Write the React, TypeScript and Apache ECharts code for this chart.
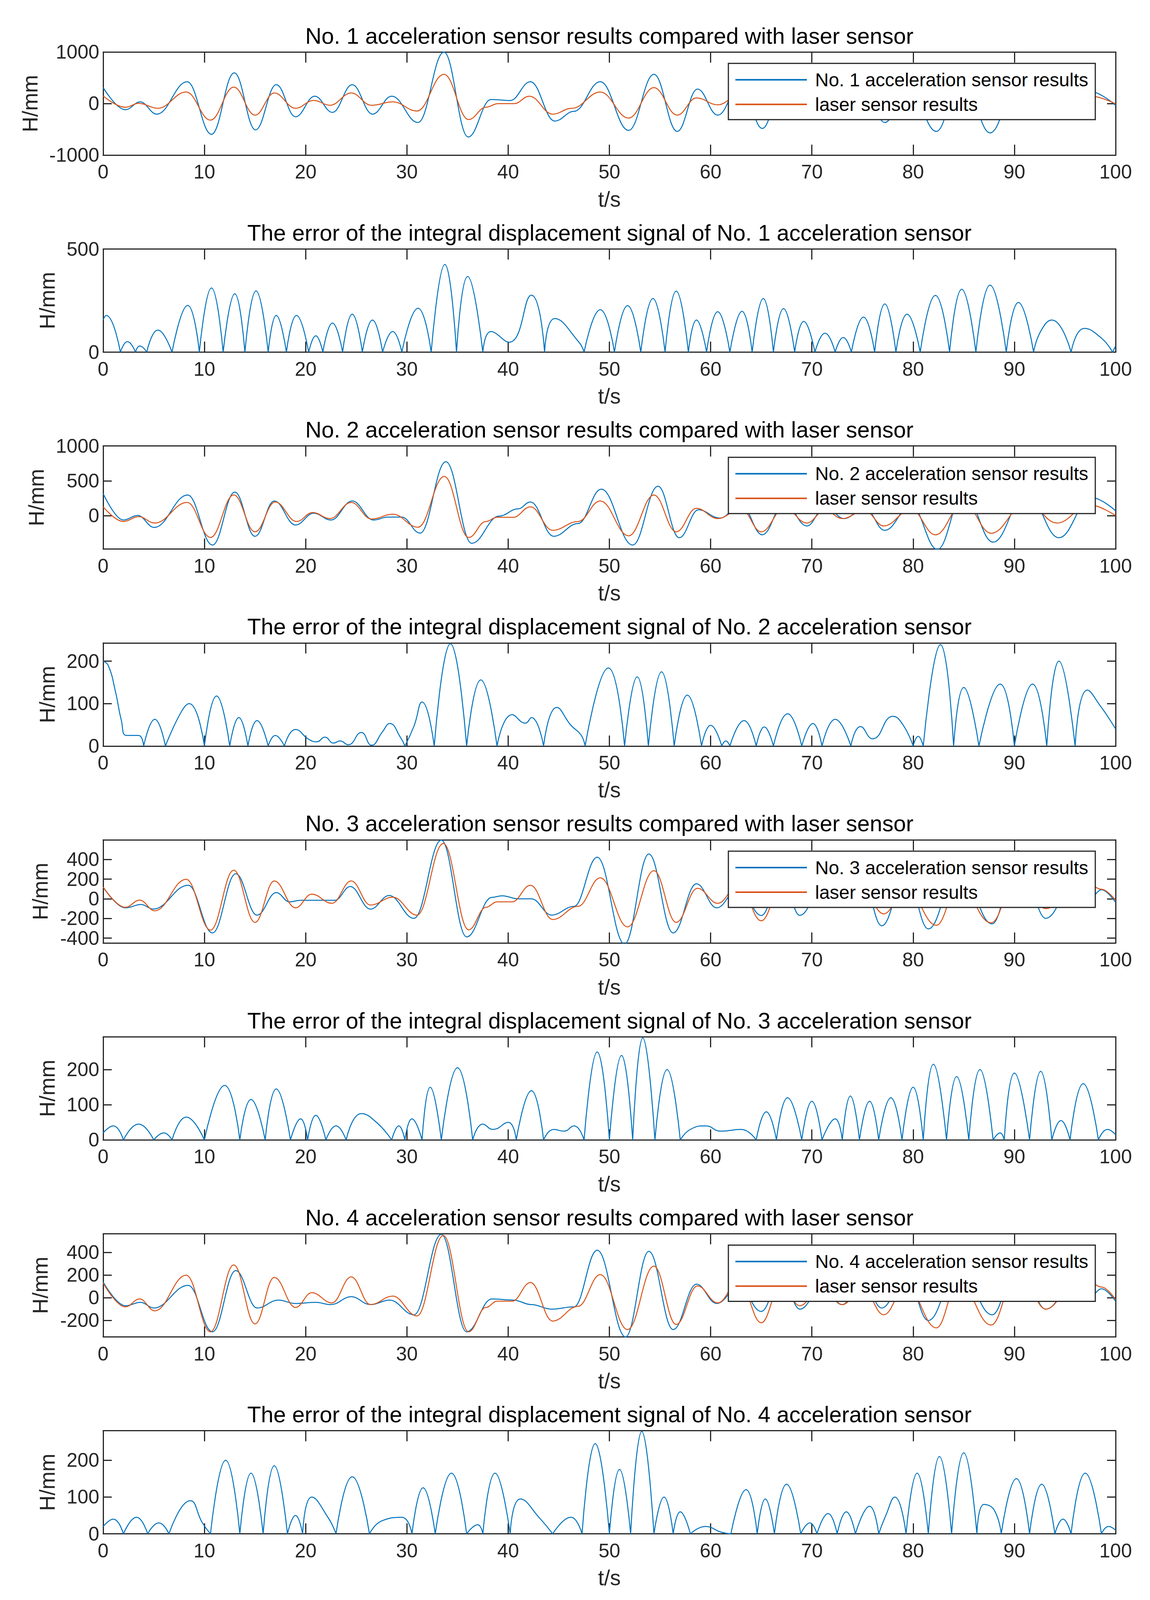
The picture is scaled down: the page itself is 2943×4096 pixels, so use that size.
import React, { useEffect, useRef } from 'react';
import * as echarts from 'echarts';

const FONT = "'Liberation Sans', Arial, Helvetica, sans-serif";
const BLUE = '#0072BD';
const ORANGE = '#D95319';
const AX = '#262626';

const titles = [
  'No. 1 acceleration sensor results compared with laser sensor',
  'The error of the integral displacement signal of No. 1 acceleration sensor',
  'No. 2 acceleration sensor results compared with laser sensor',
  'The error of the integral displacement signal of No. 2 acceleration sensor',
  'No. 3 acceleration sensor results compared with laser sensor',
  'The error of the integral displacement signal of No. 3 acceleration sensor',
  'No. 4 acceleration sensor results compared with laser sensor',
  'The error of the integral displacement signal of No. 4 acceleration sensor',
];
const accNames = [
  'No. 1 acceleration sensor results',
  'No. 2 acceleration sensor results',
  'No. 3 acceleration sensor results',
  'No. 4 acceleration sensor results',
];
const laserName = 'laser sensor results';
const xLabel = 't/s';
const yLabel = 'H/mm';

const yRanges = [[-1000, 1000], [0, 500], [-480, 1000], [0, 243], [-450, 600], [0, 293], [-345, 565], [0, 280]];
const yTicks = [[-1000, 0, 1000], [0, 500], [0, 500, 1000], [0, 100, 200], [-400, -200, 0, 200, 400], [0, 100, 200], [-200, 0, 200, 400], [0, 100, 200]];

// ---- sensor 1 ----
const acc1 = [[0,311],[2.2,-118],[3.65,34],[5.3,-204],[8.3,425],[10.7,-595],[12.95,597],[15.05,-509],[17.1,368],[19.0,-256],[20.9,145],[22.65,-170],[24.6,368],[26.6,-204],[28.5,145],[31.1,-366],[33.66,998],[36.05,-647],[38.3,80],[40.2,60],[42.2,425],[44.6,-338],[46.5,-150],[49.1,425],[51.9,-519],[54.4,569],[56.7,-538],[58.7,282],[60.7,-223],[63.0,390],[65.1,-481],[67.2,420],[69.2,-300],[71.2,180],[73.1,-140],[75.1,340],[77.2,-366],[79.5,360],[82.3,-538],[84.8,600],[87.6,-567],[90.4,470],[93.6,-280],[97.4,240],[100,-32]];
const laser1 = [[0,149],[2.2,-70],[3.5,6],[5.4,-90],[8.2,225],[10.6,-319],[12.9,320],[15.0,-223],[16.9,206],[19.0,-90],[20.8,63],[22.4,-32],[24.5,206],[26.5,-32],[28.6,34],[31.0,-143],[33.66,569],[36.1,-309],[37.8,-70],[39.0,0],[40.6,0],[42.1,145],[44.4,-204],[46.3,-90],[49.1,225],[51.9,-280],[54.4,311],[56.7,-223],[58.6,111],[60.7,-23],[63.0,190],[65.1,-225],[67.2,210],[69.2,-150],[71.2,90],[73.1,-70],[75.1,170],[77.2,-140],[79.5,175],[82.3,-268],[84.8,295],[87.6,-245],[90.4,230],[93.6,-140],[97.4,150],[100,-4]];
const err1 = [[0,158],[0.3,178],[1.7,0],[2.4,51],[3.2,0],[3.6,30],[3.95,22],[4.3,0],[5.4,107],[6.8,0],[8.35,227],[9.5,0],[10.7,311],[11.85,0],[13.0,283],[14.0,0],[15.1,297],[16.3,0],[17.1,178],[18.1,0],[19.1,178],[20.3,0],[21.0,79],[21.7,0],[22.65,141],[23.65,0],[24.6,184],[25.6,0],[26.6,156],[27.6,0],[28.6,100],[29.5,0],[31.1,213],[32.4,0],[33.75,425],[34.9,0],[36.0,367],[37.5,0],[38.3,100],[40.1,48],[42.3,276],[43.6,0],[44.6,163],[47.0,48],[47.5,0],[49.1,206],[50.5,0],[51.8,226],[53.1,0],[54.3,260],[55.5,0],[56.6,296],[57.8,0],[58.6,156],[59.6,0],[60.7,196],[61.9,0],[63.1,198],[64.1,0],[65.2,260],[66.2,0],[67.2,211],[68.3,0],[69.2,149],[70.3,0],[71.3,92],[72.3,0],[73.1,71],[73.9,0],[75.1,170],[76.2,0],[77.2,234],[78.3,0],[79.4,184],[80.7,0],[82.2,275],[83.6,0],[84.8,305],[86.2,0],[87.6,325],[89.2,0],[90.4,241],[91.9,0],[92.6,101],[93.7,156],[95.6,0],[96.9,115],[98.6,68],[99.7,0],[100,30]];

// ---- sensor 2 ----
const acc2 = [[0,317],[2.0,-63],[3.4,3],[5.05,-169],[8.35,296],[10.8,-422],[13.0,338],[15.0,-296],[16.9,211],[19.0,-134],[20.8,35],[22.5,-63],[24.6,211],[26.7,-63],[28.1,-21],[29.5,-21],[31.3,-251],[33.85,774],[36.4,-397],[39.1,-7],[41.0,99],[42.2,197],[44.5,-296],[46.9,-113],[49.2,380],[52.3,-422],[54.8,422],[56.9,-317],[58.8,84],[60.9,-35],[63.0,160],[65.1,-275],[67.3,190],[69.5,-148],[71.3,130],[73.2,-42],[75.2,120],[77.2,-211],[79.8,150],[82.4,-485],[85.0,330],[87.9,-380],[91.2,340],[94.4,-317],[97.6,260],[100,70]];
const laser2 = [[0,127],[2.0,-84],[3.5,-14],[5.1,-106],[8.3,190],[10.6,-313],[12.9,298],[15.0,-232],[17.0,197],[19.1,-84],[20.7,45],[22.4,-42],[24.5,190],[26.5,-49],[28.6,21],[31.1,-166],[33.7,563],[36.1,-313],[37.8,-84],[38.9,-24],[40.5,-24],[42.2,127],[44.4,-211],[46.9,-84],[49.1,211],[51.9,-289],[54.4,296],[56.6,-232],[58.6,106],[60.7,-42],[63.0,100],[65.0,-232],[67.3,115],[69.5,-106],[71.3,80],[73.0,-42],[75.2,75],[77.1,-148],[79.8,90],[82.2,-275],[85.0,190],[87.7,-253],[91.2,195],[94.2,-106],[97.4,155],[100,0]];
const err2 = [[0,200],[0.5,190],[1.2,130],[1.8,60],[2.3,25],[3.5,25],[4.0,0],[5.1,63],[6.15,0],[7.7,80],[8.5,100],[10.0,0],[11.2,118],[12.5,0],[13.4,67],[14.3,0],[15.2,60],[16.3,0],[17.0,25],[17.9,0],[19.0,39],[20.3,16],[21.1,10],[21.9,21],[22.75,7],[23.4,12],[24.2,3],[25.5,32],[26.5,2],[27.6,34],[28.3,53],[29.4,19],[29.8,0],[30.7,47],[31.5,104],[32.7,0],[34.3,241],[35.9,0],[37.3,156],[38.9,0],[40.4,74],[41.7,54],[42.3,67],[43.5,0],[44.8,91],[46.2,49],[47.2,26],[47.6,0],[49.9,184],[51.5,0],[52.75,163],[53.85,0],[55.15,175],[56.4,0],[57.7,120],[59.1,0],[60.0,49],[61.1,0],[61.5,12],[61.9,0],[63.3,60],[64.5,0],[65.3,45],[66.2,0],[67.6,76],[69.0,0],[70.1,53],[71.0,0],[72.3,63],[73.85,0],[74.8,46],[76.0,17],[78.0,70],[79.0,50],[80.0,0],[80.5,23],[81.0,0],[82.7,239],[84.0,0],[85.0,138],[86.5,0],[88.6,146],[90.0,0],[91.8,146],[93.2,0],[94.4,200],[96.0,0],[97.2,132],[98.6,91],[99.7,52],[100,40]];

// ---- sensor 3 ----
const acc3 = [[0,120],[2.2,-92],[3.75,-58],[4.95,-105],[8.4,138],[10.8,-347],[13.1,255],[15.2,-166],[17.1,63],[18.4,-31],[19.5,-15],[22.9,-15],[24.4,125],[26.4,-105],[28.25,34],[30.7,-199],[33.4,597],[35.9,-388],[38.4,15],[39.4,31],[41.0,0],[42.3,0],[44.3,-166],[46.5,-77],[48.8,423],[51.5,-460],[53.9,456],[56.3,-347],[58.6,153],[60.6,-92],[62.8,120],[65.0,-170],[67.0,250],[68.8,-168],[71.0,100],[73.0,-80],[75.0,200],[76.9,-275],[79.3,250],[81.5,-306],[84.5,330],[87.8,-255],[90.4,490],[93.1,-199],[95.7,110],[97.6,20],[98.6,92],[100,-36]];
const laser3 = [[0,120],[2.2,-87],[3.6,-13],[5.1,-122],[8.2,199],[10.6,-319],[12.9,291],[15.0,-240],[16.9,182],[19.0,-92],[20.6,48],[22.6,-46],[24.5,182],[26.4,-64],[28.6,17],[31.0,-166],[33.6,564],[36.1,-316],[37.8,-87],[38.9,-31],[40.4,-31],[42.2,138],[44.4,-211],[46.9,-77],[49.1,214],[51.8,-286],[54.4,286],[56.6,-240],[58.7,107],[60.7,-46],[62.8,150],[65.0,-224],[67.0,130],[68.8,-70],[71.0,120],[73.0,-60],[75.0,90],[77.1,-153],[79.3,110],[82.3,-270],[84.5,150],[87.7,-245],[90.4,290],[93.1,-100],[95.5,60],[97.3,150],[98.6,97],[100,-15]];
const err3 = [[0,20],[1.0,40],[2.0,0],[3.5,45],[5.0,0],[6.0,20],[6.8,0],[8.2,65],[10.0,0],[12.0,155],[13.5,0],[14.6,115],[16.0,0],[17.1,145],[18.5,0],[19.5,60],[20.2,0],[21.0,70],[22.0,0],[23.0,40],[24.0,0],[25.5,75],[27.0,50],[28.5,0],[29.2,40],[29.8,0],[30.5,60],[31.5,0],[32.3,150],[33.4,0],[35.0,205],[36.5,0],[37.5,45],[38.5,30],[40.0,50],[40.8,0],[42.3,140],[43.5,0],[44.5,30],[45.5,25],[46.5,40],[47.5,0],[48.8,250],[50.0,0],[51.2,240],[52.3,0],[53.3,290],[54.5,0],[55.7,200],[57.0,0],[58.0,30],[59.5,40],[61.0,25],[63.0,30],[64.5,0],[65.5,80],[66.5,0],[67.6,120],[69.0,0],[70.0,110],[71.0,0],[72.3,60],[73.0,0],[73.8,125],[74.7,0],[75.7,110],[76.6,0],[77.8,120],[78.9,0],[80.0,150],[81.0,0],[82.0,215],[83.3,0],[84.3,180],[85.5,0],[86.6,200],[87.9,0],[88.6,20],[89.0,0],[90.0,190],[91.5,0],[92.6,195],[93.7,0],[94.6,55],[95.5,0],[96.8,160],[98.3,0],[99.2,30],[100,15]];

// ---- sensor 4 ----
const acc4 = [[0,140],[2.2,-70],[3.7,-40],[5.0,-90],[8.4,110],[10.8,-300],[13.1,240],[15.2,-90],[17.3,-20],[19.0,-50],[21.0,-40],[22.5,-60],[24.5,10],[26.4,-60],[28.3,-20],[30.7,-150],[33.4,560],[35.9,-300],[38.4,-10],[40.5,-20],[42.3,-60],[44.3,-100],[46.5,-80],[48.8,420],[51.6,-345],[53.9,410],[56.3,-280],[58.6,120],[60.6,-50],[62.8,100],[65.0,-120],[67.0,200],[68.8,-100],[71.0,90],[73.0,-60],[75.0,160],[76.9,-90],[79.3,200],[81.5,-200],[84.5,280],[87.8,-150],[90.4,350],[93.1,-100],[95.7,100],[97.6,20],[98.6,80],[100,-30]];
const laser4 = [[0,130],[2.2,-80],[3.6,-10],[5.1,-115],[8.2,200],[10.6,-300],[12.9,290],[15.0,-230],[16.9,180],[19.0,-85],[20.6,45],[22.6,-45],[24.5,185],[26.4,-60],[28.6,15],[31.0,-160],[33.6,550],[36.1,-300],[37.8,-85],[38.9,-30],[40.4,-30],[42.2,135],[44.4,-205],[46.9,-75],[49.1,205],[51.8,-280],[54.4,280],[56.6,-235],[58.7,105],[60.7,-45],[62.8,150],[65.0,-220],[67.0,130],[68.8,-70],[71.0,115],[73.0,-60],[75.0,90],[77.1,-150],[79.3,110],[82.3,-265],[84.5,150],[87.7,-240],[90.4,280],[93.1,-100],[95.5,60],[97.3,150],[98.6,95],[100,-15]];
const err4 = [[0,20],[1.0,40],[2.0,0],[3.3,45],[4.4,0],[5.5,30],[6.5,0],[8.6,90],[9.8,30],[10.6,0],[12.1,200],[13.5,0],[14.6,165],[15.8,0],[16.9,185],[18.2,0],[19.0,50],[19.7,0],[20.6,100],[22.2,45],[23.0,0],[24.6,155],[26.3,0],[27.5,35],[29.5,45],[30.5,0],[31.6,125],[32.8,0],[34.4,165],[35.9,0],[37.0,25],[37.5,0],[38.7,165],[40.2,0],[41.2,95],[43.2,40],[44.4,0],[46.2,45],[47.3,0],[48.6,245],[50.0,0],[51.0,175],[52.1,0],[53.2,278],[54.4,0],[55.4,100],[56.3,0],[57.0,60],[58.0,0],[59.5,20],[61.0,5],[62.0,0],[63.5,120],[64.6,0],[65.4,95],[66.3,0],[67.5,135],[68.9,0],[69.8,30],[70.5,0],[71.6,55],[72.5,0],[73.4,60],[74.3,0],[75.7,75],[76.6,0],[77.3,50],[78.2,100],[79.3,0],[80.4,165],[81.5,0],[82.6,210],[83.8,0],[85.0,220],[86.3,0],[87.0,80],[88.0,65],[88.7,0],[90.2,150],[91.5,0],[92.7,135],[94.0,0],[94.8,40],[95.6,0],[97.0,165],[98.6,0],[99.3,20],[100,10]];

const accData = [acc1, acc2, acc3, acc4];
const laserData = [laser1, laser2, laser3, laser4];
const errData = [err1, err2, err3, err4];

// ---- layout (target pixels) ----
const W = 2943, H = 4096;
const GL = 264, GW = 2591, GH = 264;
const TOP0 = 133.3, PITCH = 504.2;
const yNameGaps = [160, 116, 144, 116, 134, 116, 134, 116];

function withCusps(pairs: number[][]) {
  const out: any[] = [];
  pairs.forEach(([t, v], j) => {
    if (v === 0 && j > 0 && j < pairs.length - 1) {
      out.push([t, 0]);
      out.push([t, null]);
      out.push([t, 0]);
    } else out.push([t, v]);
  });
  return out;
}

const plain = (v: number) => String(v);

function buildOption() {
  const grid: any[] = [], xAxis: any[] = [], yAxis: any[] = [], series: any[] = [], legend: any[] = [], graphic: any[] = [];
  const lineSt = { color: AX, width: 3 };
  for (let i = 0; i < 8; i++) {
    const top = TOP0 + i * PITCH;
    grid.push({ left: GL, top, width: GW, height: GH });
    const [ymin, ymax] = yRanges[i];
    xAxis.push({
      type: 'value', gridIndex: i, min: 0, max: 100, interval: 10, position: 'bottom',
      axisLine: { show: true, onZero: false, lineStyle: lineSt },
      axisTick: { show: true, inside: true, length: 27, lineStyle: lineSt },
      axisLabel: { show: true, margin: 18, fontSize: 50, color: AX, fontFamily: FONT, showMinLabel: true, showMaxLabel: true, formatter: plain },
      splitLine: { show: false },
      name: xLabel, nameLocation: 'middle', nameGap: 85,
      nameTextStyle: { fontSize: 55, color: AX, fontFamily: FONT },
    });
    xAxis.push({
      type: 'value', gridIndex: i, min: 0, max: 100, interval: 10, position: 'top',
      axisLine: { show: true, onZero: false, lineStyle: lineSt },
      axisTick: { show: true, inside: true, length: 27, lineStyle: lineSt },
      axisLabel: { show: false }, splitLine: { show: false },
    });
    yAxis.push({
      type: 'value', gridIndex: i, min: ymin, max: ymax, position: 'left',
      axisLine: { show: true, onZero: false, lineStyle: lineSt },
      axisTick: { show: true, inside: true, length: 22, lineStyle: lineSt, customValues: yTicks[i] },
      axisLabel: { show: true, margin: 10, fontSize: 50, color: AX, fontFamily: FONT, customValues: yTicks[i], formatter: plain },
      splitLine: { show: false },
      name: yLabel, nameLocation: 'middle', nameRotate: 90, nameGap: yNameGaps[i],
      nameTextStyle: { fontSize: 55, color: AX, fontFamily: FONT },
    });
    yAxis.push({
      type: 'value', gridIndex: i, min: ymin, max: ymax, position: 'right',
      axisLine: { show: true, onZero: false, lineStyle: lineSt },
      axisTick: { show: true, inside: true, length: 22, lineStyle: lineSt, customValues: yTicks[i] },
      axisLabel: { show: false }, splitLine: { show: false },
    });
    graphic.push({
      type: 'text', x: GL + GW / 2, y: top - 41.8, silent: true,
      style: { text: titles[i], fontSize: 57.5, fontFamily: FONT, fill: '#000', align: 'center', verticalAlign: 'middle', textAlign: 'center', textVerticalAlign: 'middle' },
    });
    const k = Math.floor(i / 2);
    if (i % 2 === 0) {
      series.push({
        type: 'line', name: accNames[k], xAxisIndex: 2 * i, yAxisIndex: 2 * i,
        data: accData[k], smooth: 0.4, smoothMonotone: 'x', showSymbol: false, symbol: 'none',
        color: BLUE, itemStyle: { color: BLUE }, lineStyle: { color: BLUE, width: 2.5 }, z: 2,
      });
      series.push({
        type: 'line', name: laserName, xAxisIndex: 2 * i, yAxisIndex: 2 * i,
        data: laserData[k], smooth: 0.4, smoothMonotone: 'x', showSymbol: false, symbol: 'none',
        color: ORANGE, itemStyle: { color: ORANGE }, lineStyle: { color: ORANGE, width: 2.5 }, z: 3,
      });
      legend.push({
        orient: 'vertical', left: 1864, top: top + 29,
        data: [{ name: accNames[k], icon: 'rect' }, { name: laserName, icon: 'rect' }],
        itemWidth: 183, itemHeight: 4, itemGap: 13,
        padding: [17, 18, 14, 18],
        backgroundColor: '#fff', borderColor: AX, borderWidth: 3, borderRadius: 0,
        selectedMode: false,
        textStyle: { fontSize: 48, color: '#000', fontFamily: FONT, lineHeight: 50, padding: [0, 0, 0, 16] },
        z: 10,
      });
    } else {
      series.push({
        type: 'line', name: 'err' + k, xAxisIndex: 2 * i, yAxisIndex: 2 * i,
        data: withCusps(errData[k]), smooth: 0.5, showSymbol: false, symbol: 'none', connectNulls: false,
        color: BLUE, itemStyle: { color: BLUE }, lineStyle: { color: BLUE, width: 2.5 }, z: 2,
      });
    }
  }
  return { animation: false, backgroundColor: '#fff', grid, xAxis, yAxis, series, legend, graphic };
}

export default function App() {
  const ref = useRef<HTMLDivElement>(null);
  useEffect(() => {
    document.body.style.margin = '0';
    const chart = echarts.init(ref.current!, null, { renderer: 'svg', width: W, height: H });
    chart.setOption(buildOption() as any);
    return () => chart.dispose();
  }, []);
  return <div ref={ref} style={{ width: W, height: H, background: '#fff' }} />;
}
